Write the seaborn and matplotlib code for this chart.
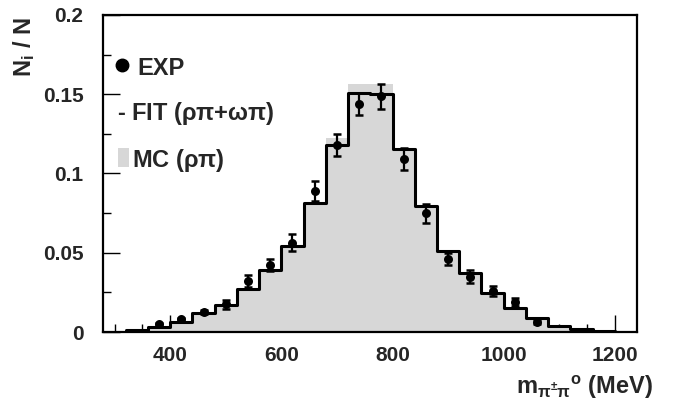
import numpy as np
import pandas as pd
import matplotlib
matplotlib.use("Agg")
import matplotlib.pyplot as plt
from matplotlib.ticker import MultipleLocator, FuncFormatter
from matplotlib.patches import Rectangle
from matplotlib.lines import Line2D
import seaborn as sns

# ---- data ----
bin_edges = [320, 360, 400, 440, 480, 520, 560, 600, 640, 680, 720, 760, 800,
             840, 880, 920, 960, 1000, 1040, 1080, 1120, 1160, 1200]
fit_vals = [0.0012, 0.0033, 0.0065, 0.0122, 0.0171, 0.0272, 0.0392, 0.0543,
            0.0817, 0.1181, 0.1508, 0.1503, 0.1156, 0.0796, 0.0512, 0.0373,
            0.0244, 0.0150, 0.0087, 0.0041, 0.0016, 0.0006]
mc_vals = [0.0012, 0.0033, 0.0065, 0.0122, 0.0171, 0.0272, 0.0392, 0.0543,
           0.0817, 0.1227, 0.1565, 0.1565, 0.1156, 0.0796, 0.0512, 0.0373,
           0.0244, 0.0150, 0.0087, 0.0041, 0.0016, 0.0006]
exp_x = [380, 420, 460, 500, 540, 580, 620, 660, 700, 740, 780, 820, 860,
         900, 940, 980, 1020, 1060]
exp_y = [0.0049, 0.0080, 0.0124, 0.0175, 0.0322, 0.0423, 0.0564, 0.0891,
         0.1181, 0.1440, 0.1486, 0.1091, 0.0748, 0.0461, 0.0349, 0.0256,
         0.0188, 0.0065]
exp_err = [0.0010, 0.0010, 0.0012, 0.0030, 0.0035, 0.0040, 0.0052, 0.0063,
           0.0068, 0.0071, 0.0077, 0.0070, 0.0061, 0.0040, 0.0040, 0.0032,
           0.0026, 0.0015]
x_ticks = [400, 600, 800, 1000, 1200]
y_ticks = [0, 0.05, 0.1, 0.15, 0.2]

centers = [(a + b) / 2 for a, b in zip(bin_edges[:-1], bin_edges[1:])]
hist_df = pd.DataFrame({"m": centers, "fit": fit_vals, "mc": mc_vals})
exp_df = pd.DataFrame({"m": exp_x, "y": exp_y, "err": exp_err})

# ---- style ----
sns.set_style("ticks")
plt.rcParams["font.family"] = ["Liberation Sans", "DejaVu Sans"]
plt.rcParams["font.weight"] = "bold"
plt.rcParams["axes.labelweight"] = "bold"
plt.rcParams["mathtext.fontset"] = "custom"
plt.rcParams["mathtext.rm"] = "Liberation Sans"
plt.rcParams["mathtext.bf"] = "Liberation Sans:bold"
plt.rcParams["mathtext.it"] = "Liberation Sans"
plt.rcParams["mathtext.default"] = "rm"

W, H = 681, 404
fig = plt.figure(figsize=(W / 100, H / 100), dpi=100)
L, R, T, B = 103, 637, 15, 332
ax = fig.add_axes([L / W, 1 - B / H, (R - L) / W, (B - T) / H])

gray = "#d7d7d7"
sns.histplot(data=hist_df, x="m", weights="mc", bins=bin_edges, element="step",
             fill=True, color=gray, alpha=1, linewidth=0, ax=ax)
sns.histplot(data=hist_df, x="m", weights="fit", bins=bin_edges, element="step",
             fill=False, color="black", linewidth=2.2, ax=ax)
ax.errorbar(exp_df["m"], exp_df["y"], yerr=exp_df["err"], fmt="none",
            ecolor="black", elinewidth=1.6, capsize=3, capthick=1.8, zorder=4)
sns.scatterplot(data=exp_df, x="m", y="y", color="black", s=42,
                edgecolor="black", linewidth=0, zorder=5, ax=ax)

ax.set_xlim(279, 1240)
ax.set_ylim(0, 0.2)
ax.set_xticks(x_ticks)
ax.set_yticks(y_ticks)
ax.xaxis.set_minor_locator(MultipleLocator(50))
ax.yaxis.set_minor_locator(MultipleLocator(0.025))
ax.yaxis.set_major_formatter(FuncFormatter(lambda v, p: "%g" % v))
ax.tick_params(which="both", direction="in", top=False, right=False,
               width=1.0, color="black", labelsize=15)
ax.tick_params(which="major", length=12)
ax.tick_params(which="minor", length=6)
ax.tick_params(axis="y", pad=14)
ax.tick_params(axis="x", pad=10)
for s in ax.spines.values():
    s.set_linewidth(1.6)
    s.set_color("black")
    s.set_visible(True)

ax.set_ylabel(r"N$_{\mathbf{i}}$ / N", fontsize=17, fontweight="bold",
              va="center", ha="center")
ax.yaxis.set_label_coords((24 - L) / (R - L), (B - 47) / (B - T))
ax.set_xlabel(r"m$_{\pi^{\pm}\pi}$$^{\mathbf{o}}$ (MeV)", fontsize=17,
              fontweight="bold", ha="right", va="center")
ax.xaxis.set_label_coords((653 - L) / (R - L), (B - 387) / (B - T))

# ---- legend (text style) ----
def fx(px):
    return px / W

def fy(py):
    return 1 - py / H

fig.add_artist(Line2D([fx(122)], [fy(65)], marker="o", markersize=9,
                      color="black", linestyle="none"))
fig.text(fx(137), fy(75), "EXP", fontsize=17, fontweight="bold",
         ha="left", va="baseline")
fig.text(fx(117), fy(120), r"- FIT ($\rho\pi$+$\omega\pi$)", fontsize=17,
         fontweight="bold", ha="left", va="baseline")
fig.add_artist(Rectangle((fx(118), fy(167)), fx(129) - fx(118), fy(148) - fy(167),
                         transform=fig.transFigure, facecolor=gray,
                         edgecolor="none"))
fig.text(fx(132), fy(167), r"MC ($\rho\pi$)", fontsize=17, fontweight="bold",
         ha="left", va="baseline")

fig.savefig("out.png", dpi=100)
